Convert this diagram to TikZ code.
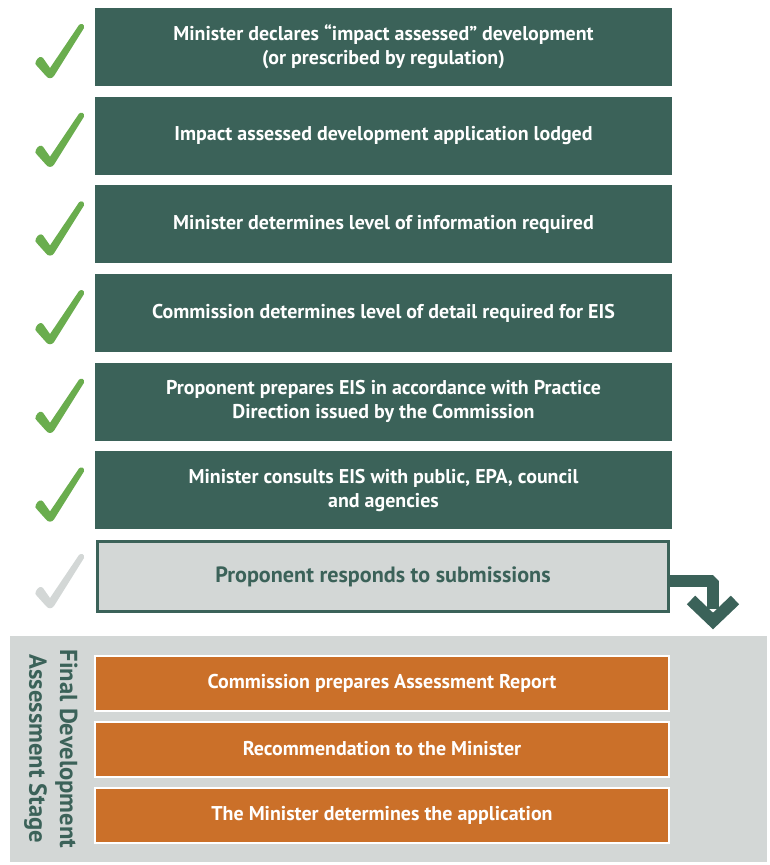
\documentclass[tikz,border=0pt]{standalone}
\usepackage{fontspec}
\setmainfont{PT Sans}
\usetikzlibrary{positioning, calc}
\definecolor{stepgreen}{HTML}{3B6259}
\definecolor{tickgreen}{HTML}{6AAD4E}
\definecolor{panelgrey}{HTML}{D3D7D6}
\definecolor{stageorange}{HTML}{CB7029}

\begin{document}
\begin{tikzpicture}[x=0.02cm, y=-0.02cm,
    greenbox/.style={fill=stepgreen, text=white, minimum width=11.54cm, minimum height=1.56cm,
      align=center, inner sep=0pt, font=\fontsize{11.35}{13.8}\selectfont\bfseries},
    orangebox/.style={fill=stageorange, draw=white, line width=0.04cm, text=white,
      minimum width=11.5cm, minimum height=1.1cm, inner sep=0pt,
      font=\fontsize{11.35}{13.8}\selectfont\bfseries},
    checkmk/.pic={
      \fill[pic actions, shift={(-25,-27)}] (1,38) .. controls (3,34) and (6,33) .. (8,35)
        -- (15,45) -- (44,2) .. controls (46,0) and (50,1) .. (49,5)
        -- (19,53) .. controls (17,56) and (13,56) .. (11,53)
        -- (2,43) .. controls (0,41) .. cycle;
    }]
  \useasboundingbox (0,0) rectangle (769,865);

  % steps already done
  \node[greenbox] (declare) at (383.5,47) {Minister declares ``impact assessed'' development\\(or prescribed by regulation)};
  \node[greenbox, below=0.2cm of declare] (lodged) {Impact assessed development application lodged};
  \node[greenbox, below=0.2cm of lodged] (info) {Minister determines level of information required};
  \node[greenbox, below=0.2cm of info] (detail) {Commission determines level of detail required for EIS};
  \node[greenbox, below=0.2cm of detail] (prepare) {Proponent prepares EIS in accordance with Practice\\Direction issued by the Commission};
  \node[greenbox, below=0.2cm of prepare] (consult) {Minister consults EIS with public, EPA, council\\and agencies};

  \foreach \n in {declare, lodged, info, detail, prepare, consult}
    \pic[fill=tickgreen] at (60, {0} |- {$(\n.center)+(0,3)$}) {checkmk};

  % current step
  \node[fill=panelgrey, draw=stepgreen, line width=0.06cm, text=stepgreen, minimum width=11.42cm,
    minimum height=1.4cm, inner sep=0pt, font=\fontsize{12.6}{14}\selectfont\bfseries]
    (resp) at (383,576.5) {Proponent responds to submissions};
  \pic[fill=panelgrey] at (60,580) {checkmk};

  \coordinate (bend) at (713,581);
  \coordinate (tip) at (713,621);
  \draw[stepgreen, line width=0.24cm, line join=bevel] (resp.east |- bend) -- (bend) -- ($(tip)+(0,-12)$);
  \draw[stepgreen, line width=0.24cm, line join=miter] ($(tip)+(-22,-21)$) -- (tip) -- ($(tip)+(22,-21)$);

  % final stage
  \fill[panelgrey] (10,636) rectangle (767,862);
  \node[orangebox] (report) at (382,683) {Commission prepares Assessment Report};
  \node[orangebox] (recommend) at (382,749) {Recommendation to the Minister};
  \node[orangebox] (decide) at (382,815) {The Minister determines the application};
  \node[rotate=-90, text=stepgreen, align=center, inner sep=0pt,
    font=\fontsize{14}{17.5}\selectfont\bfseries] (stage) at (51,749) {Final Development\\Assessment Stage};
\end{tikzpicture}
\end{document}
